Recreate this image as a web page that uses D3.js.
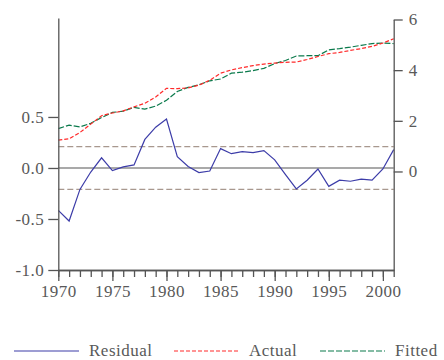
<!DOCTYPE html>
<html>
<head>
<meta charset="utf-8">
<script src="https://cdn.jsdelivr.net/npm/d3@7"></script>
<style>
  body { margin: 0; background: #fff; }
</style>
</head>
<body>
<svg id="chart" width="444" height="360"></svg>
<script>

// values
var years = [1970, 1971, 1972, 1973, 1974, 1975, 1976, 1977, 1978, 1979, 1980,
             1981, 1982, 1983, 1984, 1985, 1986, 1987, 1988, 1989, 1990,
             1991, 1992, 1993, 1994, 1995, 1996, 1997, 1998, 1999, 2000, 2001];

var residual = [-0.415, -0.52, -0.21, -0.04, 0.10, -0.025, 0.01, 0.03, 0.28, 0.40, 0.48,
                0.11, 0.015, -0.045, -0.03, 0.19, 0.14, 0.16, 0.15, 0.17, 0.08,
                -0.065, -0.205, -0.12, -0.01, -0.18, -0.12, -0.13, -0.11, -0.12, -0.01, 0.18];

var actual = [1.24, 1.29, 1.54, 1.87, 2.20, 2.31, 2.39, 2.55, 2.69, 2.94, 3.28,
              3.27, 3.30, 3.41, 3.60, 3.88, 4.01, 4.10, 4.18, 4.24, 4.28,
              4.31, 4.32, 4.42, 4.54, 4.65, 4.70, 4.78, 4.85, 4.94, 5.07, 5.24];

var fitted = [1.69, 1.83, 1.76, 1.90, 2.13, 2.33, 2.38, 2.53, 2.46, 2.58, 2.81,
              3.16, 3.32, 3.42, 3.58, 3.65, 3.88, 3.92, 3.98, 4.07, 4.26,
              4.38, 4.56, 4.57, 4.57, 4.80, 4.85, 4.91, 4.98, 5.05, 5.07, 5.05];

var leftTicks = [-1.0, -0.5, 0.0, 0.5];
var rightTicks = [0, 2, 4, 6];
var yearTicks = [1970, 1975, 1980, 1985, 1990, 1995, 2000];
var stdErr = 0.21;

var seriesNames = ["Residual", "Actual", "Fitted"];
var seriesColors = ["#3c3ca8", "#ff2a2a", "#0b7a4c"];
var seriesDash = [null, "4,2", "6,2"];

var font = "'Liberation Serif'";

var svg = d3.select("#chart");

var left = 58.3, right = 393.7, bottom = 270;

var x = d3.scaleLinear().domain([1970, 2001]).range([left, right]);
var yL = d3.scaleLinear().domain([-1.0, 1.47]).range([bottom, 18]);
var yR = d3.scaleLinear().domain([-3.89, 6]).range([bottom, 19.5]);

// reference lines: zero and +/- one standard error
svg.append("line")
    .attr("x1", left).attr("x2", right)
    .attr("y1", yL(0)).attr("y2", yL(0))
    .attr("stroke", "#555").attr("stroke-width", 1.2);

[stdErr, -stdErr].forEach(function(v) {
    svg.append("line")
        .attr("x1", left).attr("x2", right)
        .attr("y1", yL(v)).attr("y2", yL(v))
        .attr("stroke", "#a8988e").attr("stroke-width", 1.2)
        .attr("stroke-dasharray", "6,3");
});

// lines
function drawLine(vals, scale, i) {
    var line = d3.line()
        .x(function(d, j) { return x(years[j]); })
        .y(function(d) { return scale(d); });
    var p = svg.append("path")
        .datum(vals)
        .attr("d", line)
        .attr("fill", "none")
        .attr("stroke", seriesColors[i])
        .attr("stroke-width", 1.2);
    if (seriesDash[i]) p.attr("stroke-dasharray", seriesDash[i]);
}

drawLine(fitted, yR, 2);
drawLine(actual, yR, 1);
drawLine(residual, yL, 0);

// axes
function styleAxis(g) {
    g.attr("font-family", null).attr("font-size", null);
    g.selectAll("path, line").attr("stroke", "#555").attr("stroke-width", 1.3);
    g.selectAll("text").attr("fill", "#595959")
        .style("font-family", font)
        .style("font-size", "17px").style("letter-spacing", "0.5px");
}

svg.append("g")
    .attr("transform", "translate(" + left + ",0)")
    .call(d3.axisLeft(yL).tickValues(leftTicks)
        .tickFormat(function(d) { return d.toFixed(1); })
        .tickSize(10).tickSizeOuter(0).tickPadding(4))
    .call(styleAxis);

svg.append("g")
    .attr("transform", "translate(" + right + ",0)")
    .call(d3.axisRight(yR).tickValues(rightTicks)
        .tickSize(9).tickSizeOuter(0).tickPadding(6))
    .call(styleAxis);

// minor year ticks
svg.append("g")
    .attr("transform", "translate(0," + bottom + ")")
    .call(d3.axisBottom(x).tickValues(years)
        .tickFormat("").tickSize(7).tickSizeOuter(0))
    .call(styleAxis);

svg.append("g")
    .attr("transform", "translate(0," + bottom + ")")
    .call(d3.axisBottom(x).tickValues(yearTicks)
        .tickFormat(d3.format("d")).tickSize(11).tickSizeOuter(0).tickPadding(4))
    .call(styleAxis);

// legend
var legendX = [14, 174, 320];
var legend = svg.append("g").attr("transform", "translate(0,351)");
seriesNames.forEach(function(name, i) {
    var l = legend.append("line")
        .attr("x1", legendX[i]).attr("x2", legendX[i] + 65)
        .attr("stroke", seriesColors[i]).attr("stroke-width", 1.2);
    if (seriesDash[i]) l.attr("stroke-dasharray", seriesDash[i]);
    legend.append("text")
        .attr("x", legendX[i] + 75)
        .attr("dy", "0.32em")
        .attr("fill", "#595959")
        .style("font-family", font)
        .style("font-size", "17px").style("letter-spacing", "0.5px")
        .text(name);
});

</script>
</body>
</html>
